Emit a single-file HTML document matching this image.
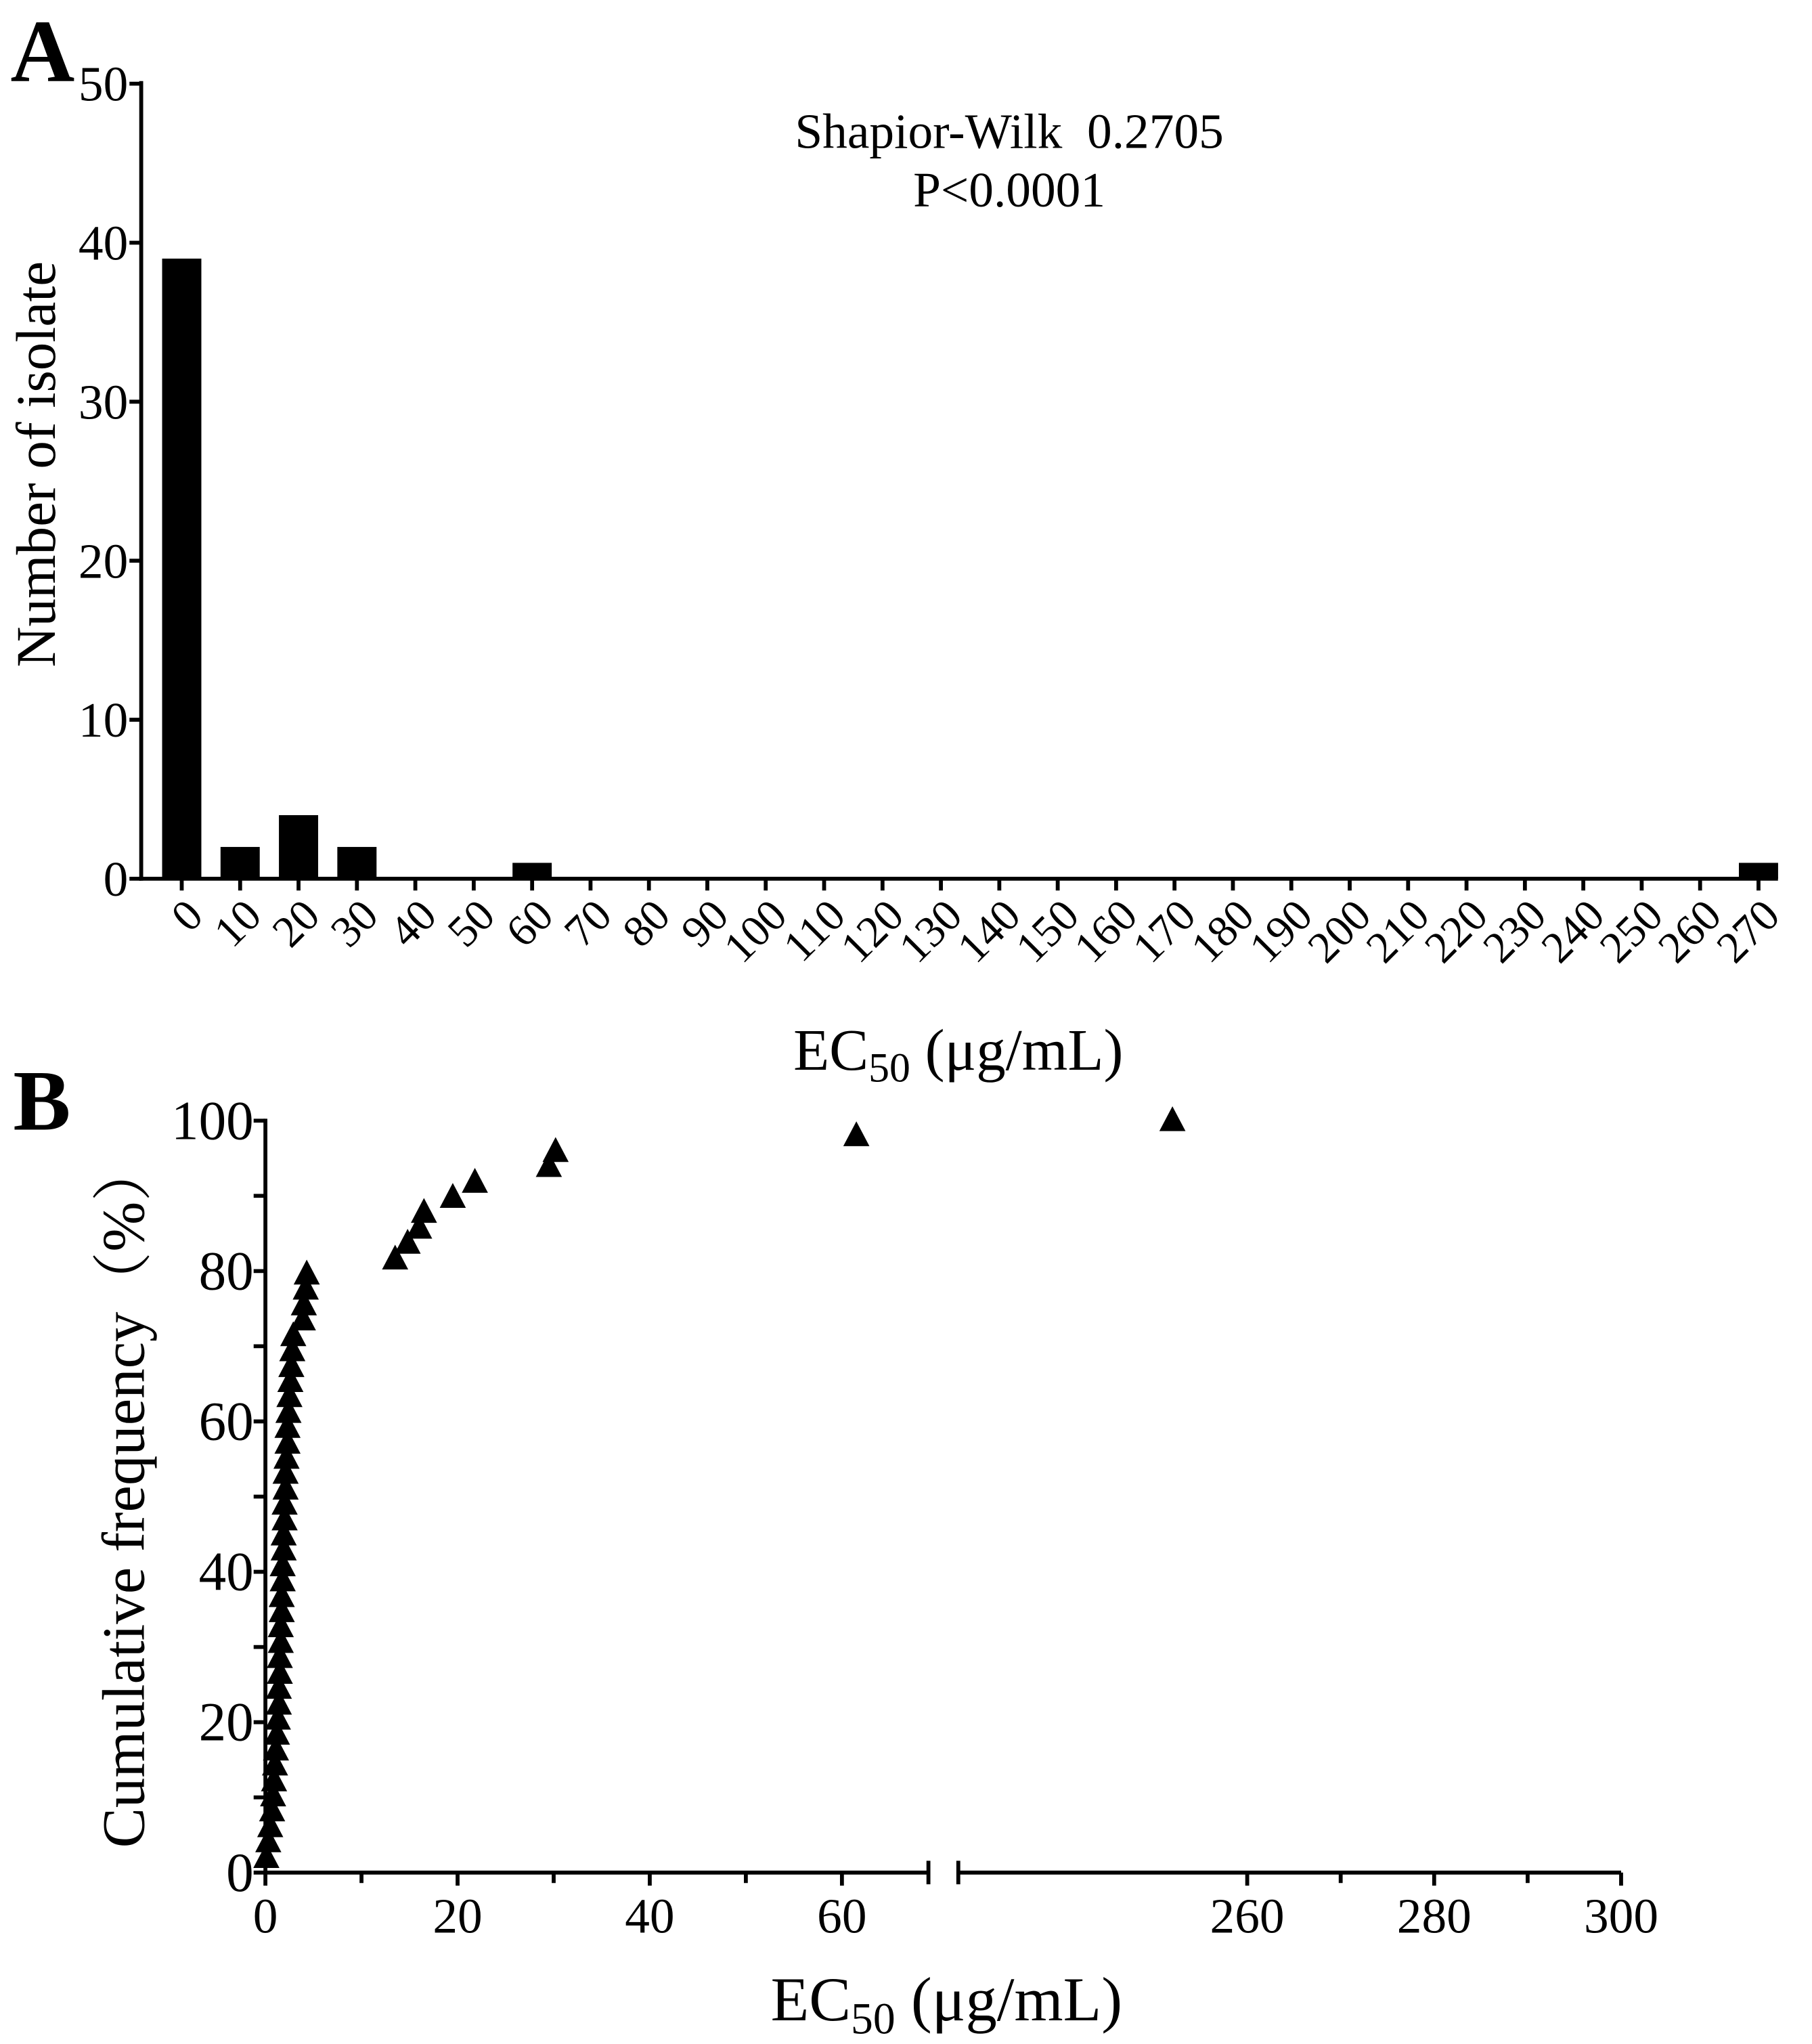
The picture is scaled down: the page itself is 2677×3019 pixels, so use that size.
<!DOCTYPE html>
<html><head><meta charset="utf-8"><style>
html,body{margin:0;padding:0;background:#fff}
svg{display:block}
text{font-family:"Liberation Serif",serif;fill:#000}
</style></head><body>
<svg id="fig" width="2677" height="3019" viewBox="0 0 1386 1563.1" xmlns="http://www.w3.org/2000/svg">
<g id="pa"></g>
<g id="pb"></g>
</svg>
<script>
// Panel A data
const histCategories = [0,10,20,30,40,50,60,70,80,90,100,110,120,130,140,150,160,170,180,190,200,210,220,230,240,250,260,270];
const histCounts = [39,2,4,2,0,0,1,0,0,0,0,0,0,0,0,0,0,0,0,0,0,0,0,0,0,0,0,1];
const histYTicks = [0,10,20,30,40,50];
// Panel B data
const cumX = [0.1,0.3,0.5,0.7,0.8,0.9,1.0,1.1,1.2,1.3,1.4,1.4,1.5,1.5,1.6,1.6,1.7,1.7,1.8,1.8,1.9,1.9,2.0,2.0,2.1,2.1,2.2,2.3,2.3,2.4,2.5,2.6,2.7,2.8,2.9,3.9,4.0,4.2,4.3,13.5,14.8,16.0,16.5,19.5,21.8,29.5,30.2,61.5,252];
const cumY = [2.0,4.1,6.1,8.2,10.2,12.2,14.3,16.3,18.4,20.4,22.4,24.5,26.5,28.6,30.6,32.7,34.7,36.7,38.8,40.8,42.9,44.9,46.9,49.0,51.0,53.1,55.1,57.1,59.2,61.2,63.3,65.3,67.3,69.4,71.4,73.5,75.5,77.6,79.6,81.6,83.7,85.7,87.8,89.8,91.8,93.9,95.9,98.0,100];
const cumYTicks = [0,20,40,60,80,100];
const cumXTicksLow = [0,20,40,60];
const cumXTicksHigh = [260,280,300];

const NS="http://www.w3.org/2000/svg";
function mk(parent,tag,attrs,txt){const e=document.createElementNS(NS,tag);for(const k in attrs)e.setAttribute(k,attrs[k]);if(txt!==undefined)e.textContent=txt;parent.appendChild(e);return e;}

// ---- Panel A ----
const pa=document.getElementById('pa');
const ax0=108, ay0=672, ayTop=64;
const ay=v=>ay0-(v/50)*(ay0-ayTop);
const ax=i=>139+i*44.67;
let t=mk(pa,'text',{x:8,y:62,'font-size':68,'font-weight':'bold'},'A');


let l=mk(pa,'line',{x1:ax0,y1:ayTop-2,x2:ax0,y2:ay0+1.5,stroke:'#000','stroke-width':3});


l=mk(pa,'line',{x1:ax0-1.5,y1:ay0,x2:1360,y2:ay0,stroke:'#000','stroke-width':3});


histYTicks.forEach(v=>{
  const tk=mk(pa,'line',{x1:ax0-9,y1:ay(v),x2:ax0,y2:ay(v),stroke:'#000','stroke-width':3});
  
  
  const tl=mk(pa,'text',{x:ax0-10,y:ay(v)+13,'font-size':38,'text-anchor':'end'},String(v));
  
  
});
histCategories.forEach((c,i)=>{
  const x=ax(i);
  const h=ay0-ay(histCounts[i]);
  if(histCounts[i]>0){
    const b=mk(pa,'rect',{x:x-15,y:ay(histCounts[i]),width:30,height:h,fill:'#000'});
    
    
  }
  const tk=mk(pa,'line',{x1:x,y1:ay0,x2:x,y2:ay0+9,stroke:'#000','stroke-width':3});
  
  
  const tl=mk(pa,'text',{x:0,y:0,'font-size':34,'text-anchor':'end',transform:`translate(${x+18},${702}) rotate(-45)`},String(c));
  
  
});
t=mk(pa,'text',{x:772,y:113,'font-size':38,'text-anchor':'middle','xml:space':'preserve'},'Shapior-Wilk  0.2705');
t.setAttribute('style','white-space:pre');


t=mk(pa,'text',{x:772,y:158,'font-size':38,'text-anchor':'middle'},'P<0.0001');


t=mk(pa,'text',{x:0,y:0,'font-size':43,'text-anchor':'middle',transform:'translate(42,355) rotate(-90)'},'Number of isolate');


t=mk(pa,'text',{x:733,y:818,'font-size':45,'text-anchor':'middle'});


t.innerHTML='EC<tspan font-size="32" dy="9">50</tspan><tspan dy="-9"> (μg/mL)</tspan>';

// ---- Panel B ----
const pb=document.getElementById('pb');
const by0=1432, byTop=857, bx0=203;
const by=v=>by0-(v/100)*(by0-byTop);
const bxLow=v=>bx0+v*7.35;
const bxHigh=v=>954+(v-260)*7.15;
const bx=v=>v<=69?bxLow(v):bxHigh(v);
t=mk(pb,'text',{x:10,y:864,'font-size':66,'font-weight':'bold'},'B');


l=mk(pb,'line',{x1:bx0,y1:byTop-1.5,x2:bx0,y2:by0+1.5,stroke:'#000','stroke-width':3});


l=mk(pb,'line',{x1:bx0-1.5,y1:by0,x2:bxLow(69),y2:by0,stroke:'#000','stroke-width':3});


l=mk(pb,'line',{x1:733,y1:by0,x2:bxHigh(300),y2:by0,stroke:'#000','stroke-width':3});


[bxLow(69),733].forEach(x=>{
  const c=mk(pb,'line',{x1:x,y1:by0-9,x2:x,y2:by0+9,stroke:'#000','stroke-width':3});
  
  
});
for(let v=0;v<=100;v+=10){
  const tk=mk(pb,'line',{x1:bx0-9,y1:by(v),x2:bx0,y2:by(v),stroke:'#000','stroke-width':3});
  
  
}
cumYTicks.forEach(v=>{
  const tl=mk(pb,'text',{x:bx0-9,y:by(v)+14,'font-size':42,'text-anchor':'end'},String(v));
  
  
});
[10,30,50].forEach(v=>{
  const tk=mk(pb,'line',{x1:bxLow(v),y1:by0,x2:bxLow(v),y2:by0+8,stroke:'#000','stroke-width':3});
  
  
});
[270,290].forEach(v=>{
  const tk=mk(pb,'line',{x1:bxHigh(v),y1:by0,x2:bxHigh(v),y2:by0+8,stroke:'#000','stroke-width':3});
  
  
});
cumXTicksLow.concat(cumXTicksHigh).forEach(v=>{
  const x=bx(v);
  const tk=mk(pb,'line',{x1:x,y1:by0,x2:x,y2:by0+10,stroke:'#000','stroke-width':3});
  
  
  const tl=mk(pb,'text',{x:x,y:by0+46,'font-size':38,'text-anchor':'middle'},String(v));
  
  
});
cumX.forEach((v,i)=>{
  const x=bx(v), y=by(cumY[i]);
  const p=mk(pb,'polygon',{points:`${x},${y-11} ${x-10},${y+8} ${x+10},${y+8}`,fill:'#000'});
  
  
});
t=mk(pb,'text',{x:0,y:0,'font-size':46,'text-anchor':'middle',transform:'translate(110,1143) rotate(-90)'},'Cumulative frequency（%）');


t.setAttribute('style','font-family:"Liberation Serif","Noto Serif CJK SC",serif');
t=mk(pb,'text',{x:724,y:1545,'font-size':48,'text-anchor':'middle'});


t.innerHTML='EC<tspan font-size="34" dy="10">50</tspan><tspan dy="-10"> (μg/mL)</tspan>';
</script>
</body></html>
